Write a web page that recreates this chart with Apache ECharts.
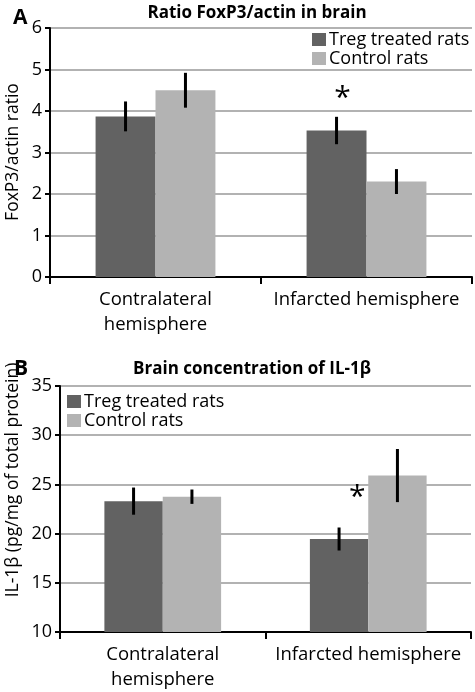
<!DOCTYPE html>
<html>
<head>
<meta charset="utf-8">
<script src="https://cdn.jsdelivr.net/npm/echarts@6/dist/echarts.min.js"></script>
<style>html,body{margin:0;padding:0;background:#fff}#c{width:475px;height:692px}</style>
</head>
<body>
<div id="c"></div>
<script>
var categories = ['Contralateral\nhemisphere', 'Infarcted hemisphere'];
var seriesNames = ['Treg treated rats', 'Control rats'];
// Panel A: Ratio FoxP3/actin
var aTreg = [3.87, 3.53];
var aTregErr = [0.36, 0.33];
var aCtrl = [4.50, 2.30];
var aCtrlErr = [0.42, 0.30];
var aStars = [[1, -0.4, 4.44]]; // [category, offset in bar widths from category centre, value]
var aTicks = [0, 1, 2, 3, 4, 5, 6];
// Panel B: IL-1β
var bTreg = [23.3, 19.45];
var bTregErr = [1.38, 1.17];
var bCtrl = [23.75, 25.9];
var bCtrlErr = [0.73, 2.7];
var bStars = [[1, -0.19, 24.3]];
var bTicks = [10, 15, 20, 25, 30, 35];

var FONT = '"Open Sans", "Noto Sans", sans-serif';
var DARK = '#626262';
var LIGHT = '#b3b3b3';
var BARW = 0.284;

function errSeries(idx, vals, errs, sIdx) {
  var data = vals.map(function (v, i) { return [i, v, errs[i], sIdx]; });
  return {
    type: 'custom', xAxisIndex: idx, yAxisIndex: idx, z: 10, silent: true,
    data: data,
    renderItem: function (params, api) {
      var band = api.size([1, 0])[0];
      var c = api.coord([api.value(0), api.value(1)]);
      var off = (api.value(3) === 0 ? -0.5 : 0.5) * band * BARW;
      var top = api.coord([api.value(0), api.value(1) + api.value(2)]);
      var bot = api.coord([api.value(0), api.value(1) - api.value(2)]);
      return {
        type: 'line',
        shape: { x1: c[0] + off, y1: top[1], x2: c[0] + off, y2: bot[1] },
        style: { stroke: '#000', lineWidth: 3 }
      };
    }
  };
}
function starSeries(idx, stars) {
  return {
    type: 'custom', xAxisIndex: idx, yAxisIndex: idx, z: 11, silent: true,
    data: stars,
    renderItem: function (params, api) {
      var band = api.size([1, 0])[0];
      var c = api.coord([api.value(0), api.value(2)]);
      var off = api.value(1) * band * BARW;
      return {
        type: 'text',
        style: { text: '*', x: c[0] + off, y: c[1] + 6, textAlign: 'center', textVerticalAlign: 'middle',
          fontSize: 30, fontFamily: FONT, fill: '#000' }
      };
    }
  };
}
function xAxis(idx) {
  return {
    type: 'category', gridIndex: idx, data: categories,
    axisLine: { lineStyle: { color: '#000', width: 2 } },
    axisTick: { show: true, length: 7, lineStyle: { color: '#000', width: 2 } },
    axisLabel: { color: '#000', fontSize: 18.5, fontFamily: FONT, lineHeight: 25, margin: 10, interval: 0 }
  };
}
function yAxis(idx, ticks) {
  return {
    type: 'value', gridIndex: idx, min: ticks[0], max: ticks[ticks.length - 1], interval: ticks[1] - ticks[0],
    axisLine: { show: true, lineStyle: { color: '#000', width: 2 } },
    axisTick: { show: true, length: 5, lineStyle: { color: '#000', width: 2 } },
    axisLabel: { color: '#000', fontSize: 18, fontFamily: FONT, margin: 8 },
    splitLine: { lineStyle: { color: '#999', width: 1.5 } }
  };
}
function bar(idx, name, vals, color) {
  return {
    type: 'bar', name: name, xAxisIndex: idx, yAxisIndex: idx, data: vals,
    barWidth: (BARW * 100) + '%', barGap: '0%', itemStyle: { color: color }
  };
}
function legend(left, top) {
  return {
    data: seriesNames.map(function (n) { return { name: n }; }), orient: 'vertical', left: left, top: top,
    icon: 'rect', itemWidth: 14, itemHeight: 13, itemGap: 0, padding: 0,
    textStyle: { fontSize: 18, fontFamily: FONT, color: '#000', padding: [0, 0, 0, -2], lineHeight: 19 }
  };
}

var chart = echarts.init(document.getElementById('c'), null, { renderer: 'canvas' });
chart.setOption({
  animation: false,
  backgroundColor: '#fff',
  title: [
    { text: 'A', left: 8, top: 3, textStyle: { fontSize: 21, fontWeight: 'bold', fontFamily: FONT, color: '#000' } },
    { text: 'Ratio FoxP3/actin in brain', left: 252, textAlign: 'center', top: 0, textStyle: { fontSize: 17, fontWeight: 'bold', fontFamily: FONT, color: '#000' } },
    { text: 'B', left: 9, top: 354, textStyle: { fontSize: 21, fontWeight: 'bold', fontFamily: FONT, color: '#000' } },
    { text: 'Brain concentration of IL-1β', left: 247, textAlign: 'center', top: 356, textStyle: { fontSize: 17, fontWeight: 'bold', fontFamily: FONT, color: '#000' } }
  ],
  graphic: [
    { type: 'text', x: 13, y: 152, rotation: Math.PI / 2, style: { text: 'FoxP3/actin ratio', fontSize: 17.5, fontFamily: FONT, fill: '#000', textAlign: 'center', textVerticalAlign: 'middle' } },
    { type: 'text', x: 13, y: 480, rotation: Math.PI / 2, style: { text: 'IL-1β (pg/mg of total protein)', fontSize: 17.5, fontFamily: FONT, fill: '#000', textAlign: 'center', textVerticalAlign: 'middle' } }
  ],
  legend: [legend(312, 30), legend(67, 392)],
  grid: [
    { left: 50, right: 3, top: 28, bottom: 415 },
    { left: 60, right: 4, top: 386, bottom: 56 }
  ],
  xAxis: [xAxis(0), xAxis(1)],
  yAxis: [yAxis(0, aTicks), yAxis(1, bTicks)],
  series: [
    bar(0, seriesNames[0], aTreg, DARK),
    bar(0, seriesNames[1], aCtrl, LIGHT),
    bar(1, seriesNames[0], bTreg, DARK),
    bar(1, seriesNames[1], bCtrl, LIGHT),
    errSeries(0, aTreg, aTregErr, 0),
    errSeries(0, aCtrl, aCtrlErr, 1),
    errSeries(1, bTreg, bTregErr, 0),
    errSeries(1, bCtrl, bCtrlErr, 1),
    starSeries(0, aStars),
    starSeries(1, bStars)
  ]
});
</script>
</body>
</html>
